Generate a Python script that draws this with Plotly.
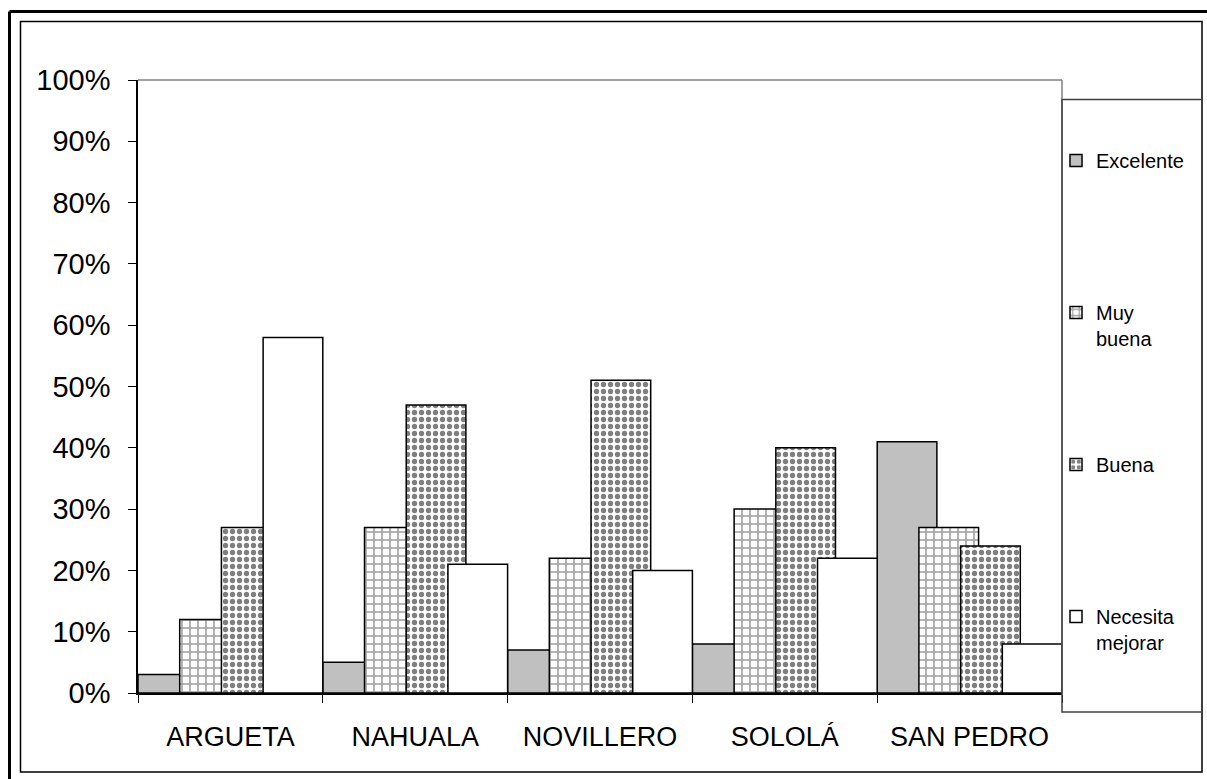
import plotly.graph_objects as go

# Survey results by community (share of responses per rating)
categories = ["ARGUETA", "NAHUALA", "NOVILLERO", "SOLOLÁ", "SAN PEDRO"]
series_names = ["Excelente", "Muy<br>buena", "Buena", "Necesita<br>mejorar"]
excelente = [0.03, 0.05, 0.07, 0.08, 0.41]
muy_buena = [0.12, 0.27, 0.22, 0.30, 0.27]
buena = [0.27, 0.47, 0.51, 0.40, 0.24]
necesita_mejorar = [0.58, 0.21, 0.20, 0.22, 0.08]
y_ticks = [0, 0.1, 0.2, 0.3, 0.4, 0.5, 0.6, 0.7, 0.8, 0.9, 1.0]

W, H = 1207, 779
PL, PR, PT, PB = 138, 1062, 80, 693  # plot area in pixels


def px(x):
    return (x - PL) / (PR - PL)


def py(y):
    return (PB - y) / (PB - PT)


# overlapping clustered bars: step between bars and bar width (category units)
step = 0.2257
bw = 1 - 3 * step

styles = [
    dict(color="#C0C0C0", pattern=dict(shape="")),
    dict(color="white", pattern=dict(shape="+", size=8, solidity=0.35,
                                     fgcolor="#3c3c3c", bgcolor="white", fillmode="overlay")),
    dict(color="white", pattern=dict(shape=".", size=7, solidity=0.45,
                                     fgcolor="black", bgcolor="white", fillmode="overlay")),
    dict(color="white", pattern=dict(shape="")),
]

fig = go.Figure()
for i, (name, vals) in enumerate(zip(series_names,
                                     [excelente, muy_buena, buena, necesita_mejorar])):
    lbl = name if "<br>" in name else name + "<br>\u00a0"
    fig.add_trace(go.Bar(
        x=categories, y=vals, name=lbl,
        offset=-0.5 + i * step, width=bw,
        marker=dict(color=styles[i]["color"], pattern=styles[i]["pattern"],
                    line=dict(color="black", width=1.5)),
        legendgroup=str(i),
        hoverinfo="x+y",
    ))

shapes = [
    # outer frame
    dict(type="line", xref="paper", yref="paper", x0=px(9.5), x1=px(1210),
         y0=py(11.5), y1=py(11.5), line=dict(color="black", width=3)),
    dict(type="line", xref="paper", yref="paper", x0=px(9.5), x1=px(9.5),
         y0=py(11.5), y1=py(790), line=dict(color="black", width=3)),
    dict(type="rect", xref="paper", yref="paper", x0=px(20.5), x1=px(1202),
         y0=py(21.5), y1=py(772), line=dict(color="black", width=1.5)),
    # plot area top / right border
    dict(type="line", xref="paper", yref="paper", x0=0, x1=1, y0=1, y1=1,
         line=dict(color="#808080", width=1.5)),
    dict(type="line", xref="paper", yref="paper", x0=1, x1=1, y0=0, y1=1,
         line=dict(color="#808080", width=1.5)),
    # legend box
    dict(type="rect", xref="paper", yref="paper", x0=px(1062), x1=px(1202),
         y0=py(99.5), y1=py(712), line=dict(color="#404040", width=1.5)),
]

fig.update_layout(
    width=W, height=H,
    margin=dict(l=PL, r=W - PR, t=PT, b=H - PB),
    paper_bgcolor="white", plot_bgcolor="white",
    barmode="overlay",
    font=dict(family="Liberation Sans, Arial, sans-serif", color="black"),
    shapes=shapes,
    showlegend=True,
    legend=dict(
        x=px(1056), xanchor="left", y=py(141), yanchor="top",
        bgcolor="rgba(0,0,0,0)", borderwidth=0,
        font=dict(size=20, color="black"),
        traceorder="grouped", tracegroupgap=97,
        valign="top",
    ),
    xaxis=dict(
        type="category", range=[-0.5, 4.5],
        showline=True, linecolor="black", linewidth=2,
        ticks="outside", tickson="boundaries", ticklen=8, tickcolor="black",
        tickfont=dict(size=27), ticklabelstandoff=19,
        showgrid=False, zeroline=False, fixedrange=True,
    ),
    yaxis=dict(
        range=[0, 1.0], tickvals=y_ticks, tickformat=".0%",
        showline=True, linecolor="black", linewidth=1.5,
        ticks="outside", ticklen=8, tickcolor="black",
        tickfont=dict(size=29), ticklabelstandoff=12,
        showgrid=False, zeroline=False, fixedrange=True,
    ),
)

fig.write_html("out.html")
